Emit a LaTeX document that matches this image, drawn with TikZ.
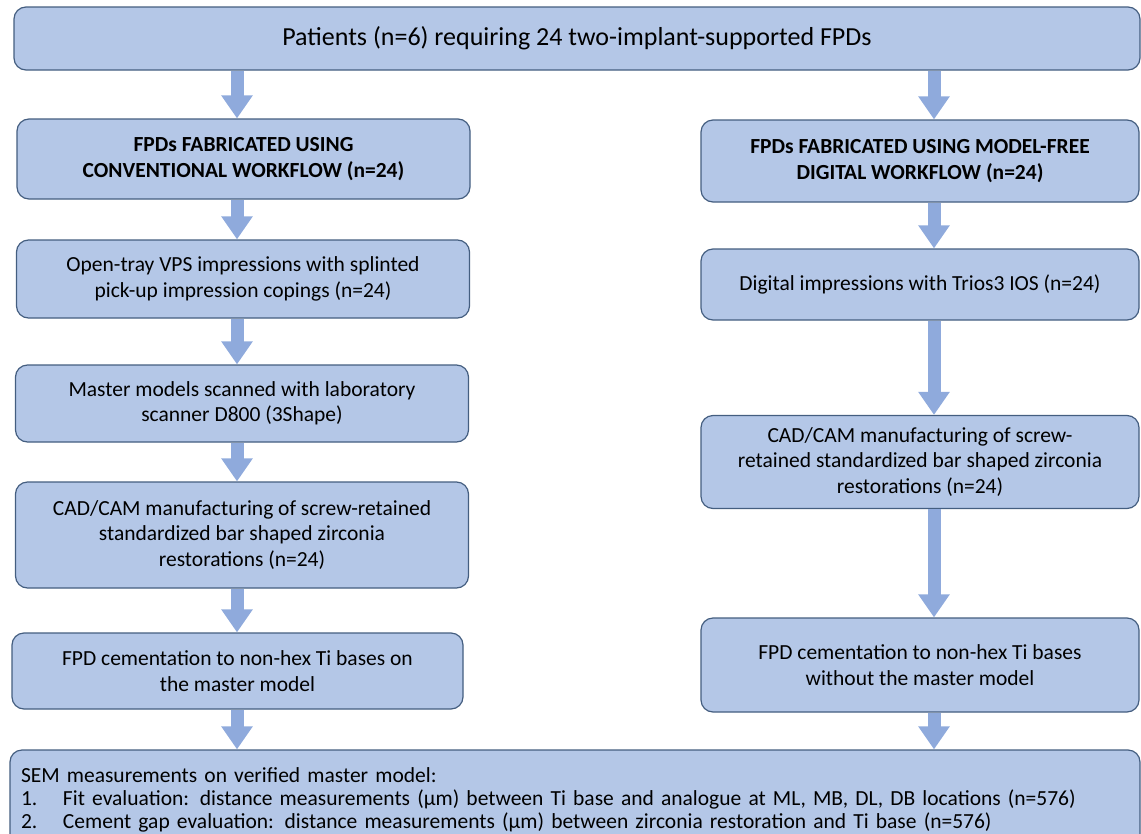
\documentclass[tikz,border=0pt]{standalone}
\usepackage{fontspec}
\setmainfont{Carlito}
\usepackage{xcolor}
\usetikzlibrary{arrows.meta}
\definecolor{boxfill}{HTML}{B4C7E7}
\definecolor{boxline}{HTML}{445E80}
\definecolor{arrowblue}{HTML}{8FAADC}

\begin{document}
\begin{tikzpicture}[x=1pt,y=-1pt,font=\fontsize{21.5}{25.5}\selectfont]
                \tikzstyle{box}=[draw=boxline,fill=boxfill,line width=1.2pt,rounded corners=12pt,align=center,inner sep=0pt]
                \tikzstyle{left box}=[box,minimum width=453pt]
                \tikzstyle{right box}=[box,minimum width=438pt]
                \tikzstyle{head}=[font=\fontsize{21.5}{25.5}\selectfont\bfseries]
                \tikzstyle{flow}=[-{Triangle[width=30pt,length=23pt]},line width=13pt,draw=arrowblue]
                \useasboundingbox (0,0) rectangle (1141,833);
                \node(patients)[box,font=\fontsize{26}{30}\selectfont,minimum width=1126pt,minimum height=63pt] at (577,38.5) {Patients (n=6) requiring 24 two-implant-supported FPDs};
                \node(conv)[left box,head,minimum height=80pt] at (243.5,159) {FPDs FABRICATED USING\\CONVENTIONAL WORKFLOW (n=24)};
                \node(vps)[left box,minimum height=78pt] at (243,279) {Open-tray VPS impressions with splinted\\pick-up impression copings (n=24)};
                \node(scan)[left box,minimum height=77pt] at (242,403.5) {Master models scanned with laboratory\\scanner D800 (3Shape)};
                \node(cadconv)[left box,minimum height=106pt] at (242,535) {CAD/CAM manufacturing of screw-retained\\standardized bar shaped zirconia\\restorations (n=24)};
                \node(cemconv)[box,minimum width=451pt,minimum height=76pt] at (237.5,671) {FPD cementation to non-hex Ti bases on\\the master model};
                \node(digi)[right box,head,minimum height=82pt] at (920,161) {FPDs FABRICATED USING MODEL-FREE\\DIGITAL WORKFLOW (n=24)};
                \node(ios)[right box,minimum height=71pt] at (920,284.5) {Digital impressions with Trios3 IOS (n=24)};
                \node(caddigi)[right box,minimum height=93pt] at (920,462) {CAD/CAM manufacturing of screw-\\retained standardized bar shaped zirconia\\restorations (n=24)};
                \node(cemdigi)[right box,minimum height=94pt] at (920,665) {FPD cementation to non-hex Ti bases\\without the master model};
                \node(sem)[box,align=left,text width=1108pt,inner xsep=11pt,minimum height=100pt,font=\fontsize{21.5}{23}\selectfont] at (575,800)
                {SEM measurements on verified master model:\\
                \makebox[42pt][l]{1.}Fit evaluation: distance measurements (µm) between Ti base and analogue at ML, MB, DL, DB locations (n=576)\\
                \makebox[42pt][l]{2.}Cement gap evaluation: distance measurements (µm) between zirconia restoration and Ti base (n=576)};
                \coordinate(lx) at (237,0);
                \coordinate(rx) at (934,0);
                \draw[flow] (patients.south -| lx) -- (conv.north -| lx);
                \draw[flow] (conv.south -| lx) -- (vps.north -| lx);
                \draw[flow] (vps.south -| lx) -- (scan.north -| lx);
                \draw[flow] (scan.south -| lx) -- (cadconv.north -| lx);
                \draw[flow] (cadconv.south -| lx) -- (cemconv.north -| lx);
                \draw[flow] (cemconv.south -| lx) -- (sem.north -| lx);
                \draw[flow] (patients.south -| rx) -- (digi.north -| rx);
                \draw[flow] (digi.south -| rx) -- (ios.north -| rx);
                \draw[flow] (ios.south -| rx) -- (caddigi.north -| rx);
                \draw[flow] (caddigi.south -| rx) -- (cemdigi.north -| rx);
                \draw[flow] (cemdigi.south -| rx) -- (sem.north -| rx);
            \end{tikzpicture}
\end{document}
